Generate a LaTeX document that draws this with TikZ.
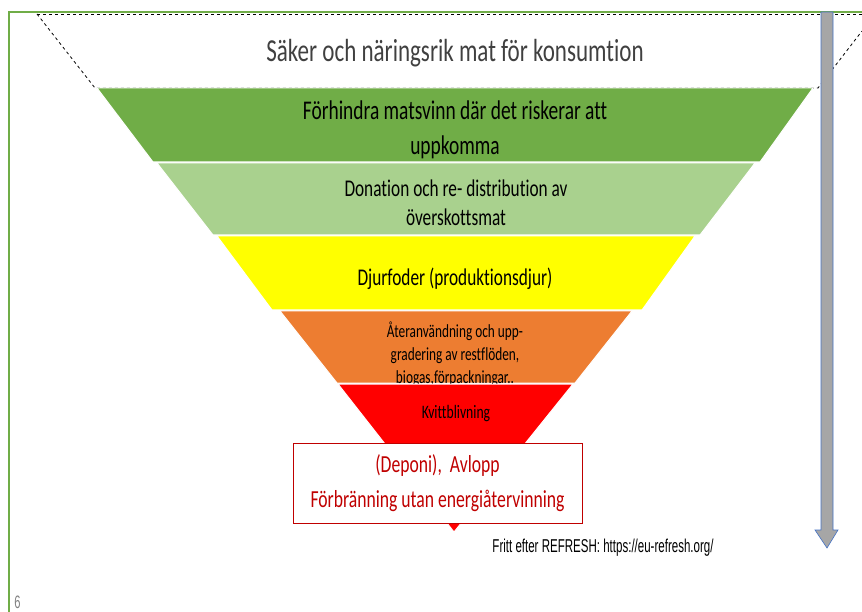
\documentclass[tikz,border=0pt]{standalone}
\usepackage{fontspec}
\setmainfont{Carlito}[FakeStretch=0.72, Ligatures=CommonOff]
\newfontfamily\srcfont{Liberation Sans}[FakeStretch=0.62]
\definecolor{framegreen}{HTML}{70AD47}
\definecolor{lightgreen}{HTML}{A9D18E}
\definecolor{feedyellow}{HTML}{FFFF00}
\definecolor{wasteorange}{HTML}{ED7D31}
\definecolor{ridred}{HTML}{FF0000}
\definecolor{darkred}{HTML}{C00000}
\definecolor{titlegray}{HTML}{404040}
\definecolor{arrowgray}{HTML}{A6A6A6}
\definecolor{arrowblue}{HTML}{4472C4}
\tikzset{
  band/.style={draw=white, line width=1pt},
  bandtext/.style={align=center, inner sep=0pt, text=black},
  guide/.style={dashed, line width=0.8pt, black},
}
\begin{document}
\begin{tikzpicture}[x=1pt, y=-1pt]
\useasboundingbox (0,0) rectangle (862,612);
% frame
\draw[framegreen, line width=2pt] (8.5,612) -- (8.5,12) -- (862,12);
% dashed top of the funnel
\draw[guide] (37,14) -- (862,14);
\draw[guide] (37,14) -- (95,88) -- (818,88) -- (862,31);
\node[bandtext, text=titlegray, font=\fontsize{32}{36}\selectfont] (title) at (455,53) {Säker och näringsrik mat för konsumtion};
% bands
\fill[band, fill=framegreen] (97,88) -- (813,88) -- (760,162) -- (153,162) -- cycle;
\fill[band, fill=lightgreen] (157,163) -- (755,163) -- (700,235) -- (213,235) -- cycle;
\fill[band, fill=feedyellow] (217,236) -- (695,236) -- (642,310) -- (272,310) -- cycle;
\fill[band, fill=wasteorange] (280,311) -- (632,311) -- (575,383) -- (337,383) -- cycle;
\node[bandtext, font=\fontsize{27}{35}\selectfont] (prevent) at (455,129.5) {Förhindra matsvinn där det riskerar att\\uppkomma};
\node[bandtext, font=\fontsize{24}{29}\selectfont] (donate) at (456,202.5) {Donation och re- distribution av\\överskottsmat};
\node[bandtext, font=\fontsize{24}{30}\selectfont] (feed) at (455,279) {Djurfoder (produktionsdjur)};
\node[bandtext, font=\fontsize{18.5}{23}\selectfont] (reuse) at (455,354) {Återanvändning och upp-\\gradering av restflöden,\\biogas,förpackningar..};
\fill[band, fill=ridred] (338,384) -- (573,384) -- (454,532) -- cycle;
\node[bandtext, font=\fontsize{19}{22}\selectfont] (rid) at (456,414) {Kvittblivning};
% bottom box
\node[draw=darkred, fill=white, line width=1pt, minimum width=289pt, minimum height=80pt,
  align=center, text=darkred, font=\fontsize{24.5}{35}\selectfont] (landfill) at (437.5,483)
  {(Deponi),~ Avlopp\\Förbränning utan energiåtervinning};
% arrow
\draw[arrowblue, fill=arrowgray, line width=0.6pt] (821,12) -- (833,12) -- (833,530) -- (838,530) -- (827,548) -- (815,530) -- (821,530) -- cycle;
\node[inner sep=0pt, font=\srcfont\fontsize{18.6}{20}\selectfont] (source) at (603,548) {Fritt efter REFRESH: https://eu-refresh.org/};
\node[inner sep=0pt, text=gray, font=\srcfont\fontsize{18}{18}\selectfont] (page) at (17.5,602) {6};
\end{tikzpicture}
\end{document}
